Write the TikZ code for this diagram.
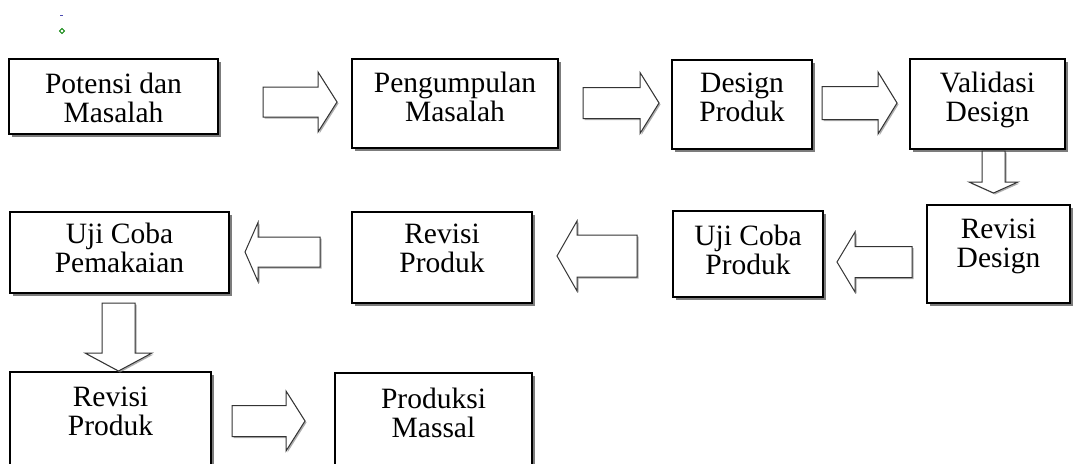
\documentclass[tikz,border=0pt]{standalone}
\usepackage{fontspec}
\setmainfont{Liberation Serif}
\usetikzlibrary{shadows}
\tikzset{
  box/.style={draw=black, line width=1.8pt, fill=white, inner sep=0pt, outer sep=0pt,
    drop shadow={shadow xshift=3pt, shadow yshift=-3pt, fill=black!60, opacity=0.85}},
  txt/.style={align=center, inner sep=0pt, font=\fontsize{29.5}{28.5}\selectfont},
  blockarrow/.style={draw=black!80, line width=1pt, fill=white, line join=miter,
    drop shadow={shadow xshift=1.5pt, shadow yshift=-1.5pt, fill=black!45, opacity=0.7}}
}
% horizontal block arrow: tail x, head base x, tip x, centre y, shaft half, head half
\newcommand{\hblock}[6]{%
  \path[blockarrow] (#1,{#4-#5}) -- (#2,{#4-#5}) -- (#2,{#4-#6}) -- (#3,#4)
    -- (#2,{#4+#6}) -- (#2,{#4+#5}) -- (#1,{#4+#5}) -- cycle;}
% vertical block arrow: tail y, head base y, tip y, centre x, shaft half, head half
\newcommand{\vblock}[6]{%
  \path[blockarrow] ({#4-#5},#1) -- ({#4-#5},#2) -- ({#4-#6},#2) -- (#4,#3)
    -- ({#4+#6},#2) -- ({#4+#5},#2) -- ({#4+#5},#1) -- cycle;}
\begin{document}
\begin{tikzpicture}[x=1pt, y=-1pt]
\clip (0,0) rectangle (1073,463);
\fill[white] (0,0) rectangle (1073,463);
% small marks top-left
\fill[blue!40!gray] (59.5,14.5) rectangle (62.5,16);
\draw[green!50!black, line width=0.8pt] (62,28.5) -- (64.5,31) -- (62,33.5) -- (59.5,31) -- cycle;

% boxes (y grows downward)
\node[box, minimum width=209pt, minimum height=75pt] (b1) at (113.5,96.5) {};
\node[box, minimum width=206pt, minimum height=89pt] (b2) at (455,103.5) {};
\node[box, minimum width=140pt, minimum height=89pt] (b3) at (742,104.5) {};
\node[box, minimum width=155pt, minimum height=90pt] (b4) at (987.5,104) {};
\node[box, minimum width=143pt, minimum height=98pt] (b5) at (998.5,254) {};
\node[box, minimum width=150pt, minimum height=86pt] (b6) at (748,254) {};
\node[box, minimum width=180pt, minimum height=91pt] (b7) at (442,257.5) {};
\node[box, minimum width=219pt, minimum height=81pt] (b8) at (119.5,252.5) {};
\node[box, minimum width=201pt, minimum height=110pt] (b9) at (110.5,427) {};
\node[box, minimum width=197pt, minimum height=110pt] (b10) at (433.5,428) {};

% texts (anchor=base is the baseline of the last line)
\node[txt, anchor=base] (t1) at (113.5,122) {Potensi dan\\Masalah};
\node[txt, anchor=base] (t2) at (455,121) {Pengumpulan\\Masalah};
\node[txt, anchor=base] (t3) at (742,121) {Design\\Produk};
\node[txt, anchor=base] (t4) at (987.5,121) {Validasi\\Design};
\node[txt, anchor=base] (t5) at (998.5,267) {Revisi\\Design};
\node[txt, anchor=base] (t6) at (748,274) {Uji Coba\\Produk};
\node[txt, anchor=base] (t7) at (442,272) {Revisi\\Produk};
\node[txt, anchor=base] (t8) at (119.5,272) {Uji Coba\\Pemakaian};
\node[txt, anchor=base] (t9) at (110.5,435) {Revisi\\Produk};
\node[txt, anchor=base] (t10) at (433.5,437) {Produksi\\Massal};

% block arrows
\hblock{263}{318}{337}{102}{15}{30}
\hblock{583}{640}{659}{103}{15.5}{30.5}
\hblock{822}{878}{897}{103}{16.5}{31}
\vblock{151}{182}{193}{993.5}{11.5}{24.5}
\hblock{912}{855}{837}{262}{15.5}{30}
\hblock{637}{577}{557}{256}{21}{35}
\hblock{320}{258}{245}{252}{15}{29.5}
\vblock{303}{353}{371}{118.5}{16.5}{33.5}
\hblock{232}{286}{305}{421}{15.5}{30}
\end{tikzpicture}
\end{document}
